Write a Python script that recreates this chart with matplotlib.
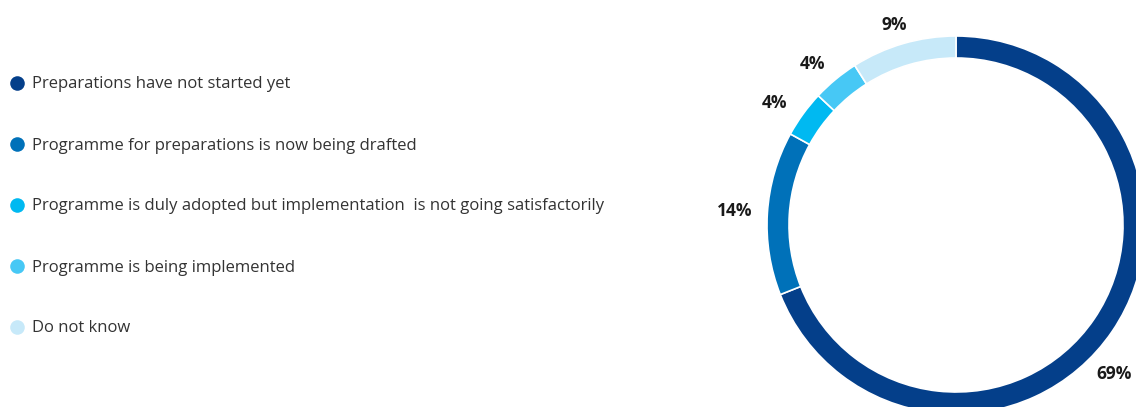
import matplotlib.pyplot as plt
import numpy as np

plt.rcParams['font.family'] = ['Open Sans', 'DejaVu Sans']

categories = [
    "Preparations have not started yet",
    "Programme for preparations is now being drafted",
    "Programme is duly adopted but implementation  is not going satisfactorily",
    "Programme is being implemented",
    "Do not know",
]
shares = [69, 14, 4, 4, 9]
colors = ["#043f8a", "#0071b9", "#00b9f1", "#47c8f5", "#c7e9f9"]

W, H = 1136, 407
fig = plt.figure(figsize=(W / 100, H / 100), dpi=100)
ax = fig.add_axes([0, 0, 1, 1])

# donut, clockwise from 12 o'clock
cx, cy, R = 956, H - 225, 189
ring = 22
wedges, _ = ax.pie(shares, colors=colors, startangle=90, counterclock=False,
                   center=(cx, cy), radius=R,
                   wedgeprops=dict(width=ring, edgecolor="white", linewidth=1.2))

# percentage labels just outside the ring; wider gap at the sides for text width
label_shift = [-9, 0, 2, 2, 1]
for w, v, s in zip(wedges, shares, label_shift):
    mid = np.deg2rad((w.theta1 + w.theta2) / 2 + s)
    r = R + 15 + 18 * abs(np.cos(mid))
    ax.text(cx + r * np.cos(mid), cy + r * np.sin(mid), f"{v}%",
            ha="center", va="center", fontsize=12.5, fontweight="bold", color="#1a1a1a")

# legend on the left
for i, (cat, col) in enumerate(zip(categories, colors)):
    y = H - (83 + i * 61)
    ax.scatter([17], [y], s=110, color=col, linewidths=0, zorder=3)
    ax.text(32, y - 1.5, cat, ha="left", va="center", fontsize=12, color="#333333")

ax.set_xlim(0, W)
ax.set_ylim(0, H)
ax.set_aspect("auto")
ax.set_axis_off()

fig.savefig("out.png", dpi=100)
